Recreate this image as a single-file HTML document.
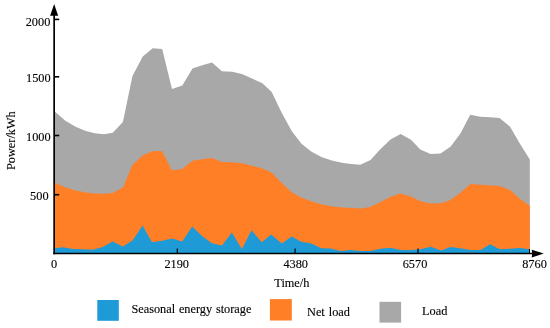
<!DOCTYPE html>
<html><head><meta charset="utf-8"><title>Chart</title>
<style>
html,body{margin:0;padding:0;background:#fff;}
body{width:550px;height:328px;overflow:hidden;}
svg{display:block;}
text{font-family:"Liberation Serif",serif;font-size:12.3px;fill:#000;stroke:#000;stroke-width:0.12px;}
</style></head><body>
<svg width="550" height="328" viewBox="0 0 550 328">
<rect width="550" height="328" fill="#fff"/>
<polygon fill="#a8a8a8" points="54.2,111.2 55.6,112.2 65.4,120.7 75.6,126.8 85.8,130.9 94.8,133.2 103.7,134.2 112.7,132.7 122.9,122.0 132.4,76.3 142.7,56.4 152.7,48.2 162.2,48.9 172.0,88.9 182.3,85.4 192.5,68.4 202.2,65.3 212.0,62.5 221.9,71.2 232.2,71.7 241.9,74.0 252.1,78.6 262.4,83.2 271.7,92.1 281.8,113.0 292.0,131.5 301.5,143.7 311.2,151.4 321.4,157.1 331.7,160.6 341.9,162.7 350.9,164.0 360.3,164.7 370.5,160.0 380.3,149.2 390.5,139.5 400.7,134.0 411.0,139.8 420.3,149.4 430.6,154.0 440.6,153.5 450.7,146.6 460.6,133.2 470.2,114.8 480.3,116.7 490.5,117.3 499.5,118.1 509.9,126.5 520.1,144.0 529.8,159.4 529.8,253.5 54.2,253.5"/>
<polygon fill="#ff7f27" points="54.2,182.2 55.0,182.7 65.4,187.4 75.6,190.4 85.8,192.5 94.8,193.5 103.7,193.7 112.7,193.0 122.9,187.4 132.4,165.1 142.7,155.4 152.9,151.0 162.1,151.2 172.0,170.5 182.3,168.9 192.5,160.7 202.2,159.2 212.0,157.9 221.9,162.0 232.2,162.3 241.9,163.3 252.1,165.8 262.4,168.4 271.8,172.8 281.6,182.7 291.2,192.0 301.2,197.6 311.0,201.2 321.2,204.3 331.4,206.3 341.7,207.4 351.9,208.1 360.9,208.4 370.3,207.1 380.6,202.0 390.3,196.9 400.3,193.5 410.1,196.3 420.5,201.2 430.7,203.5 441.0,203.3 450.4,199.9 460.1,193.0 470.4,184.1 480.6,184.8 490.9,185.4 499.8,185.9 510.1,190.0 519.8,198.7 529.8,205.8 529.8,253.5 54.2,253.5"/>
<polygon fill="#1e9bd7" points="54.2,248.4 55.0,248.3 63.1,247.3 73.1,248.9 83.2,249.3 92.6,249.7 102.7,246.9 112.7,241.4 122.8,246.5 132.8,240.2 142.5,225.5 152.0,242.2 162.1,240.8 172.1,238.6 182.2,241.6 192.2,226.5 202.3,236.2 211.9,243.2 222.0,245.4 231.8,232.6 241.9,248.9 251.5,230.2 261.7,242.2 271.1,234.6 281.8,243.6 291.6,236.6 301.3,241.8 311.3,243.4 321.4,248.3 330.4,248.5 340.5,251.1 350.5,249.9 360.9,251.1 370.3,250.9 380.6,248.8 390.3,247.8 400.5,250.1 410.2,249.9 420.5,249.3 430.7,246.8 441.0,250.4 450.4,247.0 460.1,248.3 470.4,250.1 480.6,250.1 490.1,244.2 499.8,249.3 510.1,248.8 519.8,248.1 529.8,249.3 529.8,253.5 54.2,253.5"/>
<g fill="#000">
<rect x="53.3" y="15" width="1.7" height="239.3"/>
<rect x="53.3" y="252.75" width="480" height="1.5"/>
<polygon points="54.15,3.9 58.15,15.7 50.15,15.7"/>
<polygon points="543.8,253.55 531.7,257.45 532.2,253.55 531.7,249.65"/>
<rect x="55" y="18.6" width="4.2" height="1.6"/>
<rect x="55" y="76.0" width="4.2" height="1.6"/>
<rect x="55" y="134.7" width="4.2" height="1.6"/>
<rect x="55" y="193.9" width="4.2" height="1.6"/>
<rect x="176.7" y="248.5" width="1.2" height="4.5"/>
<rect x="294.5" y="248.5" width="1.2" height="4.5"/>
<rect x="417.4" y="248.5" width="1.2" height="4.5"/>
<rect x="529.0" y="249" width="1.0" height="4"/>
</g>
<text x="25.7" y="25.9">2000</text>
<text x="26.0" y="82.0">1500</text>
<text x="26.0" y="141.2">1000</text>
<text x="30.1" y="199.7">500</text>
<text x="51" y="268.4">0</text>
<text x="164.4" y="268.4">2190</text>
<text x="283.4" y="268.4">4380</text>
<text x="402.7" y="268.4">6570</text>
<text x="522.2" y="268.4">8760</text>
<text x="274.3" y="286.5">Time/h</text>
<text transform="translate(14.8,170.0) rotate(-90)">Power/kWh</text>
<rect x="97.3" y="300" width="21.5" height="20.8" fill="#1e9bd7"/>
<text x="131.4" y="313.3" word-spacing="0.7" style="font-size:12.3px">Seasonal energy storage</text>
<rect x="269.9" y="299.1" width="21.9" height="21.4" fill="#ff7f27"/>
<text x="307.0" y="316.0" word-spacing="0.9" style="font-size:12.3px">Net load</text>
<rect x="379.5" y="301.8" width="21.6" height="20.8" fill="#a8a8a8"/>
<text x="422.1" y="314.6">Load</text>
</svg>
</body></html>
